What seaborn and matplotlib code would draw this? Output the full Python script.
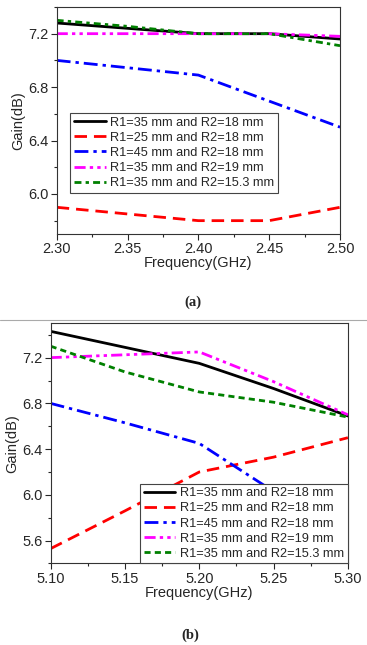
import matplotlib
matplotlib.use("Agg")
import matplotlib.pyplot as plt
import seaborn as sns
import pandas as pd
from matplotlib.ticker import MultipleLocator
from matplotlib.lines import Line2D

# ---------------- data ----------------
labels = ["R1=35 mm and R2=18 mm", "R1=25 mm and R2=18 mm", "R1=45 mm and R2=18 mm",
          "R1=35 mm and R2=19 mm", "R1=35 mm and R2=15.3 mm"]

freq_a = [2.30, 2.35, 2.40, 2.45, 2.50]
gain_a_r35_18 = [7.28, 7.24, 7.20, 7.20, 7.16]
gain_a_r25_18 = [5.90, 5.85, 5.80, 5.80, 5.90]
gain_a_r45_18 = [7.00, 6.945, 6.89, 6.695, 6.50]
gain_a_r35_19 = [7.20, 7.20, 7.20, 7.20, 7.18]
gain_a_r35_153 = [7.30, 7.255, 7.20, 7.20, 7.11]

freq_b = [5.10, 5.15, 5.20, 5.25, 5.30]
gain_b_r35_18 = [7.43, 7.29, 7.15, 6.93, 6.69]
gain_b_r25_18 = [5.53, 5.86, 6.20, 6.33, 6.50]
gain_b_r45_18 = [6.80, 6.63, 6.45, 6.03, 5.60]
gain_b_r35_19 = [7.20, 7.225, 7.25, 6.99, 6.70]
gain_b_r35_153 = [7.30, 7.075, 6.90, 6.81, 6.68]

xticks_a = [2.30, 2.35, 2.40, 2.45, 2.50]
xticks_b = [5.10, 5.15, 5.20, 5.25, 5.30]
yticks_a = [6.0, 6.4, 6.8, 7.2]
yticks_b = [5.6, 6.0, 6.4, 6.8, 7.2]

colors = ["#000000", "#FF0000", "#0000FF", "#FF00FF", "#008000"]

sns.set_style("ticks")
plt.rcParams["font.family"] = ["Liberation Sans", "DejaVu Sans"]

fig = plt.figure(figsize=(3.67, 6.45), dpi=100)

def make_df(freq, series):
    rows = []
    for lab, vals in zip(labels, series):
        for f, g in zip(freq, vals):
            rows.append({"Frequency": f, "Gain": g, "Series": lab})
    return pd.DataFrame(rows)

df_a = make_df(freq_a, [gain_a_r35_18, gain_a_r25_18, gain_a_r45_18, gain_a_r35_19, gain_a_r35_153])
df_b = make_df(freq_b, [gain_b_r35_18, gain_b_r25_18, gain_b_r45_18, gain_b_r35_19, gain_b_r35_153])

styles_a = ["-", (0, (4.5, 2.5)), (0, (5, 1.8, 1.2, 1.8)), (0, (4, 1.5, 1.2, 1.5, 1.2, 1.5)), (0, (2.5, 1.5, 1.2, 1.5))]
styles_b = ["-", (0, (4.5, 2.5)), (0, (5, 1.8, 1.2, 1.8)), (0, (4, 1.5, 1.2, 1.5, 1.2, 1.5)), (0, (2.2, 1.5))]

def draw(ax, df, styles, xticks, yticks, xlim, ylim):
    for lab, col, ls in zip(labels, colors, styles):
        sub = df[df["Series"] == lab]
        sns.lineplot(data=sub, x="Frequency", y="Gain", ax=ax, color=col,
                     linestyle=ls, linewidth=2.0, label=lab, legend=False)
    ax.set_xlim(*xlim)
    ax.set_ylim(*ylim)
    ax.set_xticks(xticks)
    ax.set_xticklabels([f"{v:.2f}" for v in xticks])
    ax.set_yticks(yticks)
    ax.set_yticklabels([f"{v:.1f}" for v in yticks])
    ax.xaxis.set_minor_locator(MultipleLocator(0.025))
    ax.yaxis.set_minor_locator(MultipleLocator(0.2))
    ax.tick_params(which="major", direction="out", length=4, width=0.8, labelsize=10.5, pad=2)
    ax.tick_params(which="minor", direction="out", length=2, width=0.8)
    for s in ax.spines.values():
        s.set_linewidth(0.8)
        s.set_color("#333333")
    ax.set_xlabel("Frequency(GHz)", fontsize=10.5, labelpad=0)
    ax.set_ylabel("Gain(dB)", fontsize=10.5, labelpad=2)

leg_kw = dict(fontsize=9.2, frameon=True, fancybox=False, edgecolor="#444444", framealpha=1,
              handlelength=2.5, handletextpad=0.35, borderpad=0.3, labelspacing=0.24,
              borderaxespad=0)

ax1 = fig.add_axes([0.1545, 0.6372, 0.772, 0.352])
draw(ax1, df_a, styles_a, xticks_a, yticks_a, (2.30, 2.50), (5.7, 7.4))
leg1 = ax1.legend(loc="upper left", bbox_to_anchor=(0.047, 0.533), **leg_kw)
leg1.get_frame().set_linewidth(0.8)

ax2 = fig.add_axes([0.138, 0.1264, 0.810, 0.3723])
draw(ax2, df_b, styles_b, xticks_b, yticks_b, (5.10, 5.30), (5.4, 7.5))
leg2 = ax2.legend(loc="lower right", bbox_to_anchor=(1.0, 0.0), **leg_kw)
leg2.get_frame().set_linewidth(0.8)

fig.text(193 / 367, 1 - 302 / 645, "(a)", ha="center", va="center", fontsize=10.5,
         fontweight="bold", family=["Liberation Serif", "DejaVu Serif"])
fig.text(190 / 367, 1 - 635 / 645, "(b)", ha="center", va="center", fontsize=10.5,
         fontweight="bold", family=["Liberation Serif", "DejaVu Serif"])

fig.add_artist(Line2D([0, 1], [1 - 320 / 645, 1 - 320 / 645], transform=fig.transFigure,
                      color="#AAAAAA", linewidth=0.8))

fig.savefig("out.png", dpi=100)
